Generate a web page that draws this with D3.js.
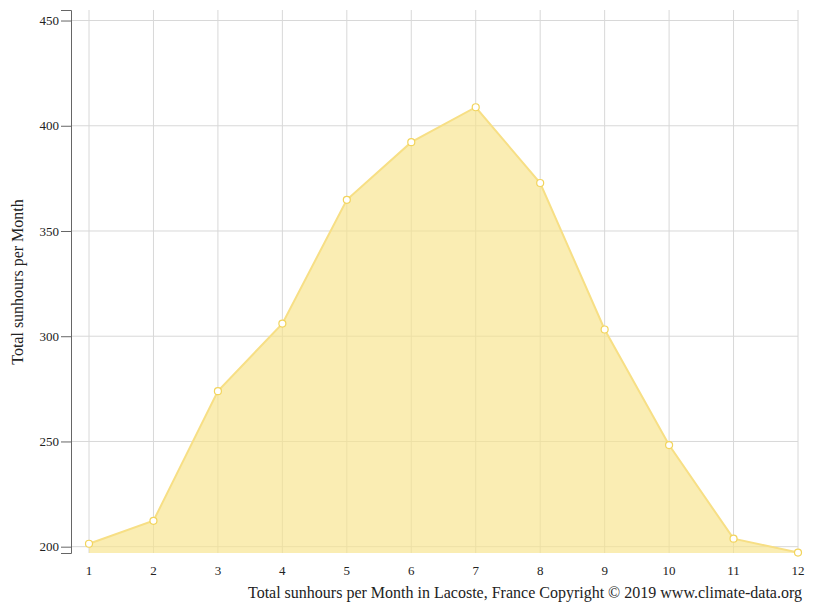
<!DOCTYPE html>
<head>
<meta charset="utf-8">
<script src="https://d3js.org/d3.v7.min.js"></script>
<style>
  body { margin: 0; background: #fff; }
  text { font-family: "Liberation Serif", serif; }
</style>
</head>
<body>
<div id="chart"></div>
<script>
var months = [1, 2, 3, 4, 5, 6, 7, 8, 9, 10, 11, 12];
var sunhours = [201.4, 212.3, 273.9, 306, 364.8, 392.2, 408.8, 372.8, 303.2, 248.3, 203.8, 197.2];
var yTicks = [200, 250, 300, 350, 400, 450];

var svg = d3.select("#chart").append("svg").attr("width", 815).attr("height", 611);

var x = d3.scaleLinear().domain([1, 12]).range([89, 798]);
var y = d3.scaleLinear().domain([197, 455]).range([553, 10]);

// grid
svg.selectAll(".vg").data(months).enter().append("line")
    .attr("x1", d => x(d)).attr("x2", d => x(d))
    .attr("y1", 10).attr("y2", 553)
    .attr("stroke", "#d8d8d8");
svg.selectAll(".hg").data(yTicks).enter().append("line")
    .attr("x1", 71).attr("x2", 798)
    .attr("y1", d => y(d)).attr("y2", d => y(d))
    .attr("stroke", "#d8d8d8");

var pts = months.map((m, i) => [m, sunhours[i]]);

svg.append("path").datum(pts)
    .attr("d", d3.area().x(d => x(d[0])).y0(553).y1(d => y(d[1])))
    .attr("fill", "#f8e38a").attr("fill-opacity", 0.65);
svg.append("path").datum(pts)
    .attr("d", d3.line().x(d => x(d[0])).y(d => y(d[1])))
    .attr("fill", "none").attr("stroke", "#f7df85").attr("stroke-width", 2);
svg.selectAll(".pt").data(pts).enter().append("circle")
    .attr("cx", d => x(d[0])).attr("cy", d => y(d[1])).attr("r", 3.5)
    .attr("fill", "#fff").attr("stroke", "#f2d45c").attr("stroke-width", 1.2);

// y axis
var ya = svg.append("g").attr("transform", "translate(71,0)")
    .call(d3.axisLeft(y).tickValues(yTicks).tickSize(10).tickPadding(2));
ya.select(".domain").attr("stroke", "#666");
ya.selectAll(".tick line").attr("stroke", "#666");
ya.selectAll("text").attr("font-size", 13).attr("fill", "#222").attr("font-family", "Liberation Serif");

// x labels
svg.selectAll(".xl").data(months).enter().append("text")
    .attr("x", d => x(d)).attr("y", 575).attr("text-anchor", "middle")
    .attr("font-size", 13).attr("fill", "#222").text(d => d);

svg.append("text").attr("transform", "translate(23,282) rotate(-90)")
    .attr("text-anchor", "middle").attr("font-size", 16).attr("fill", "#222")
    .text("Total sunhours per Month");
svg.append("text").attr("x", 802).attr("y", 598).attr("text-anchor", "end")
    .attr("font-size", 16).attr("fill", "#222")
    .text("Total sunhours per Month in Lacoste, France Copyright © 2019 www.climate-data.org");
</script>
</body>
